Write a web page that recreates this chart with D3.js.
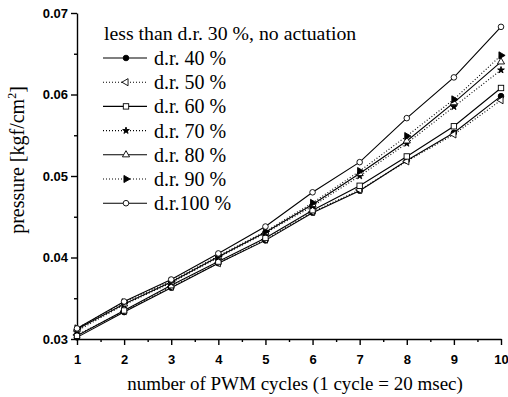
<!DOCTYPE html>
<html>
<head>
<meta charset="utf-8">
<script src="https://cdn.jsdelivr.net/npm/d3@7"></script>
<style>
  body { margin: 0; background: #fff; }
  svg text { fill: #000; }
</style>
</head>
<body>
<svg width="508" height="397"></svg>
<script>
// x values: number of PWM cycles
const cycles = [1, 2, 3, 4, 5, 6, 7, 8, 9, 10];

// pressure [kgf/cm2]
const dr40 = [0.0302, 0.0333, 0.0363, 0.0393, 0.0421, 0.0455, 0.0482, 0.0519, 0.0553, 0.0598];
const dr50 = [0.0305, 0.0334, 0.0364, 0.0393, 0.0422, 0.0456, 0.0483, 0.0518, 0.0551, 0.0593];
const dr60 = [0.0304, 0.0335, 0.0366, 0.0395, 0.0424, 0.0458, 0.0488, 0.0524, 0.0561, 0.0608];
const dr70 = [0.0310, 0.0342, 0.0369, 0.0400, 0.0430, 0.0463, 0.0500, 0.0540, 0.0585, 0.0630];
const dr80 = [0.0312, 0.0343, 0.0370, 0.0401, 0.0431, 0.0465, 0.0503, 0.0543, 0.0590, 0.0640];
const dr90 = [0.0313, 0.0345, 0.0371, 0.0402, 0.0432, 0.0467, 0.0506, 0.0549, 0.0594, 0.0648];
const dr100 = [0.0313, 0.0346, 0.0373, 0.0405, 0.0438, 0.0480, 0.0517, 0.0571, 0.0621, 0.0683];

const seriesNames = ["d.r. 40 %", "d.r. 50 %", "d.r. 60 %", "d.r. 70 %", "d.r. 80 %", "d.r. 90 %", "d.r.100 %"];
const seriesValues = [dr40, dr50, dr60, dr70, dr80, dr90, dr100];
const legendTitle = "less than d.r. 30 %, no actuation";

const yTicks = [0.03, 0.04, 0.05, 0.06, 0.07];
const xTicks = cycles;

// line style + marker per series
const styles = [
  { dash: null, shape: "circle", fill: "#000" },
  { dash: "1,2", shape: "triLeft", fill: "#fff" },
  { dash: null, shape: "square", fill: "#fff" },
  { dash: "1,2", shape: "star", fill: "#000" },
  { dash: null, shape: "triUp", fill: "#fff" },
  { dash: "1,2", shape: "triRight", fill: "#000" },
  { dash: null, shape: "circle", fill: "#fff" }
];

const svg = d3.select("svg");
const font = "'Liberation Serif', 'Times New Roman', serif";
const tickFont = "'Liberation Sans', Arial, sans-serif";

const xScale = d3.scaleLinear().domain([1, 10]).range([77, 501]);
const yScale = d3.scaleLinear().domain([0.03, 0.07]).range([339, 13]);

function marker(g, shape, fill) {
  let p;
  if (shape === "circle") {
    p = g.append("circle").attr("r", 2.8);
  } else if (shape === "square") {
    p = g.append("rect").attr("x", -2.7).attr("y", -2.7).attr("width", 5.4).attr("height", 5.4);
  } else if (shape === "star") {
    p = g.append("path").attr("d", d3.symbol().type(d3.symbolStar).size(14)());
  } else {
    const rot = { triUp: 0, triLeft: -90, triRight: 90 }[shape];
    p = g.append("path").attr("d", d3.symbol().type(d3.symbolTriangle).size(22)())
      .attr("transform", `rotate(${rot})`);
  }
  p.attr("fill", fill).attr("stroke", "#000").attr("stroke-width", 0.9);
}

// axes
const yAxis = svg.append("g")
  .attr("transform", "translate(77,0)")
  .call(d3.axisLeft(yScale).tickValues(yTicks).tickFormat(d3.format(".2f")).tickSize(6).tickSizeOuter(0));
svg.append("g")
  .attr("transform", "translate(77,0)")
  .call(d3.axisLeft(yScale).tickValues([0.035, 0.045, 0.055, 0.065]).tickFormat("").tickSize(3).tickSizeOuter(0))
  .select(".domain").remove();

const xAxis = svg.append("g")
  .attr("transform", "translate(0,339)")
  .call(d3.axisBottom(xScale).tickValues(xTicks).tickFormat(d3.format("d")).tickSize(6).tickSizeOuter(0));
svg.append("g")
  .attr("transform", "translate(0,339)")
  .call(d3.axisBottom(xScale).tickValues(d3.range(1.5, 10, 1)).tickFormat("").tickSize(3).tickSizeOuter(0))
  .select(".domain").remove();

svg.selectAll(".domain, .tick line").attr("stroke", "#000").attr("stroke-width", 1.4);
yAxis.selectAll("text").attr("font-family", tickFont).attr("font-size", 13).attr("font-weight", "bold").attr("x", -9);
xAxis.selectAll("text").attr("font-family", tickFont).attr("font-size", 13).attr("font-weight", "bold").attr("y", 16);

// lines
const line = d3.line()
  .x((d, i) => xScale(cycles[i]))
  .y(d => yScale(d));

seriesValues.forEach((vals, k) => {
  const st = styles[k];
  svg.append("path")
    .datum(vals)
    .attr("d", line)
    .attr("fill", "none")
    .attr("stroke", "#000")
    .attr("stroke-width", 1.1)
    .attr("stroke-dasharray", st.dash);
  vals.forEach((v, i) => {
    const g = svg.append("g").attr("transform", `translate(${xScale(cycles[i])},${yScale(v)})`);
    marker(g, st.shape, st.fill);
  });
});

// legend
svg.append("text")
  .attr("x", 104).attr("y", 40)
  .attr("font-family", font).attr("font-size", 19.8)
  .text(legendTitle);

seriesNames.forEach((name, k) => {
  const y = 58 + k * 24.2;
  const st = styles[k];
  svg.append("line")
    .attr("x1", 103).attr("x2", 147).attr("y1", y).attr("y2", y)
    .attr("stroke", "#000").attr("stroke-width", 1.1)
    .attr("stroke-dasharray", st.dash);
  const g = svg.append("g").attr("transform", `translate(126,${y})`);
  marker(g, st.shape, st.fill);
  svg.append("text")
    .attr("x", 154).attr("y", y + 7)
    .attr("font-family", font).attr("font-size", 20)
    .text(name);
});

// axis titles
svg.append("text")
  .attr("x", 295).attr("y", 390)
  .attr("text-anchor", "middle")
  .attr("font-family", font).attr("font-size", 19)
  .text("number of PWM cycles (1 cycle = 20 msec)");

const yt = svg.append("text")
  .attr("transform", "translate(24,160) rotate(-90)")
  .attr("text-anchor", "middle")
  .attr("font-family", font).attr("font-size", 20);
yt.append("tspan").text("pressure [kgf/cm");
yt.append("tspan").attr("font-size", 12).attr("dy", -8).text("2");
yt.append("tspan").attr("dy", 8).text("]");
</script>
</body>
</html>
